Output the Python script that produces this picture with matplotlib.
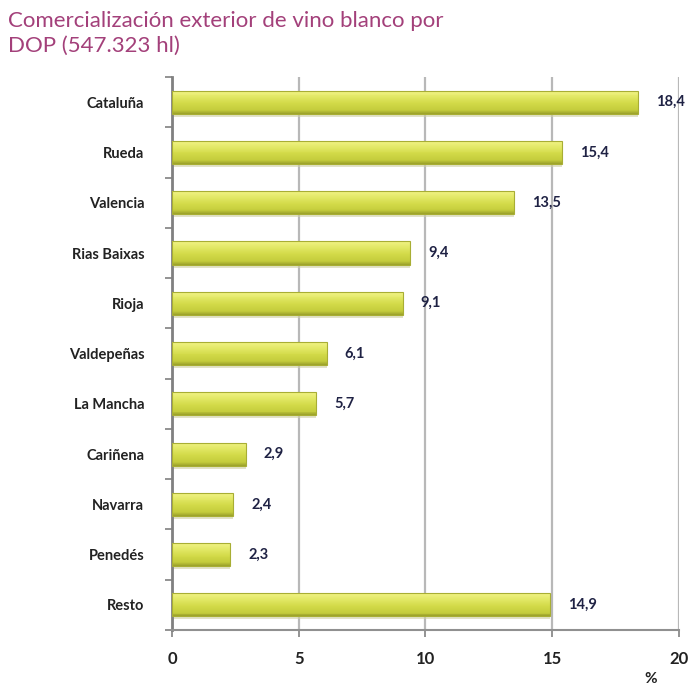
import matplotlib
matplotlib.use("Agg")
import matplotlib.pyplot as plt
import numpy as np
from matplotlib.colors import LinearSegmentedColormap

categories = ["Cataluña", "Rueda", "Valencia", "Rias Baixas", "Rioja", "Valdepeñas",
              "La Mancha", "Cariñena", "Navarra", "Penedés", "Resto"]
values = [18.4, 15.4, 13.5, 9.4, 9.1, 6.1, 5.7, 2.9, 2.4, 2.3, 14.9]
value_labels = ["18,4", "15,4", "13,5", "9,4", "9,1", "6,1", "5,7", "2,9", "2,4", "2,3", "14,9"]
xticks = [0, 5, 10, 15, 20]

plt.rcParams['font.family'] = ['Lato', 'DejaVu Sans']

fig = plt.figure(figsize=(6.94, 6.89), dpi=100)
ax = fig.add_axes([0.248, 0.0856, 0.730, 0.8025])

n = len(categories)
y = np.arange(n)
h = 0.46
grad = LinearSegmentedColormap.from_list(
    'bar', [(0.0, '#f0f283'), (0.25, '#e2e866'), (0.55, '#d2da48'),
            (0.85, '#c4cc3c'), (1.0, '#9ea42c')])

# shadow
ax.barh(y + 0.06, values, height=h, color='#d0d0a8', alpha=0.6, zorder=2, linewidth=0)
# gradient bar made of thin strips
m = 24
for k in range(m):
    yy = y - h / 2 + (k + 0.5) * h / m
    ax.barh(yy, values, height=h / m * 1.05, color=grad(k / (m - 1)), linewidth=0, zorder=3)
# outline
ax.barh(y, values, height=h, fill=False, edgecolor='#a8ae34', linewidth=0.8, zorder=4)

for yi, v, lab in zip(y, values, value_labels):
    ax.text(v + 0.72, yi, lab, va='center', ha='left', fontsize=10.5,
            fontweight='bold', color='#1f2244', zorder=5, clip_on=False)

ax.set_xlim(0, 20)
ax.set_ylim(n - 0.5, -0.5)
ax.set_xticks(xticks)
ax.set_xticklabels([str(t) for t in xticks], fontsize=12, fontweight='bold', color='#222222')
ax.set_yticks(y)
ax.set_yticklabels(categories, fontsize=10.5, fontweight='bold', color='#222222')
ax.tick_params(axis='y', which='major', length=0, pad=20)
ax.set_yticks(np.arange(-0.5, n, 1.0), minor=True)
ax.tick_params(axis='y', which='minor', length=5, color='#808080', width=1.2)
ax.tick_params(axis='x', length=5, color='#808080', width=1.2, pad=10)

ax.grid(axis='x', color='#b8b8b8', linewidth=1.6, zorder=0)
ax.set_axisbelow(True)
for s in ['top', 'right']:
    ax.spines[s].set_visible(False)
ax.spines['left'].set_color('#808080')
ax.spines['left'].set_linewidth(2)
ax.spines['bottom'].set_color('#909090')
ax.spines['bottom'].set_linewidth(1.5)

fig.text(0.928, 0.008, '%', fontsize=11, fontweight='bold', color='#222222')

fig.text(0.012, 0.984, "Comercialización exterior de vino blanco por\nDOP (547.323 hl)",
         ha='left', va='top', fontsize=16, color='#a3407a', linespacing=1.3)

fig.savefig('out.png', dpi=100)
